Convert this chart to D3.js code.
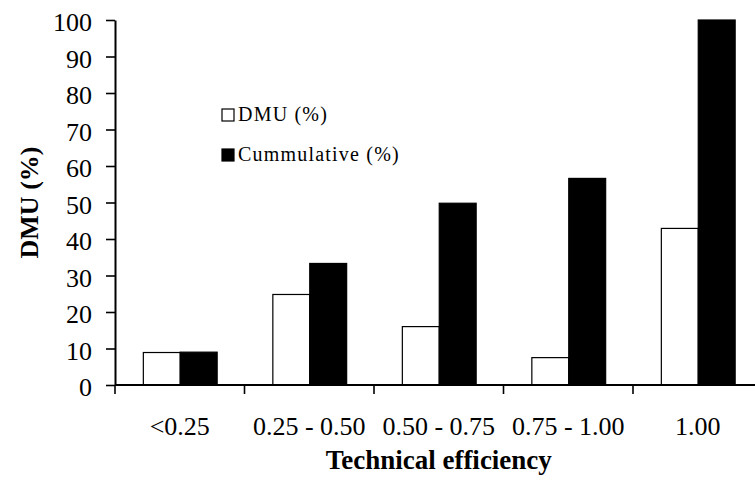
<!DOCTYPE html>
<html>
<head>
<meta charset="utf-8">
<script src="https://cdn.jsdelivr.net/npm/d3@7"></script>
<style>
  body { margin: 0; background: #fff; }
  svg { display: block; overflow: hidden; }
  text { font-family: "Liberation Serif", "Times New Roman", serif; fill: #000; }
</style>
</head>
<body>
<svg width="755" height="483"></svg>
<script>
// values
var categories = ["<0.25", "0.25 - 0.50", "0.50 - 0.75", "0.75 - 1.00", "1.00"];
var dmu = [8.9, 24.8, 16.0, 7.5, 42.9];
var cumulative = [9.0, 33.3, 49.8, 56.6, 100];
var seriesNames = ["DMU (%)", "Cummulative (%)"];
var seriesFill = ["#fff", "#000"];
var yTicks = [0, 10, 20, 30, 40, 50, 60, 70, 80, 90, 100];

var svg = d3.select("svg");
var plotLeft = 115, plotTop = 20, plotBottom = 385, plotRight = 762.5;

var x = d3.scaleBand()
  .domain(categories)
  .range([plotLeft, plotRight])
  .paddingInner(0.43)
  .paddingOuter(0.215);

var xSeries = d3.scaleBand()
  .domain([0, 1])
  .range([0, x.bandwidth()]);

var y = d3.scaleLinear()
  .domain([0, 100])
  .range([plotBottom, plotTop]);

var rows = categories.map(function(c, i) {
  return { cat: c, values: [dmu[i], cumulative[i]] };
});

// bars
var group = svg.append("g")
  .selectAll("g")
  .data(rows)
  .enter().append("g")
  .attr("transform", function(d) { return "translate(" + x(d.cat) + ",0)"; });

group.selectAll("rect")
  .data(function(d) { return d.values; })
  .enter().append("rect")
  .attr("x", function(d, i) { return xSeries(i) + 0.5; })
  .attr("y", function(d) { return y(d); })
  .attr("width", xSeries.bandwidth())
  .attr("height", function(d) { return plotBottom - y(d); })
  .attr("fill", function(d, i) { return seriesFill[i]; })
  .attr("stroke", "#000")
  .attr("stroke-width", 1.2);

// y axis
var yAxis = svg.append("g")
  .attr("transform", "translate(" + plotLeft + ",0)")
  .call(d3.axisLeft(y).tickValues(yTicks).tickSize(9).tickPadding(14).tickSizeOuter(0));
yAxis.select(".domain").attr("stroke-width", 2);
yAxis.selectAll(".tick line").attr("stroke-width", 1.6);
yAxis.selectAll("text")
  .attr("font-size", 26)
  .attr("font-family", "Liberation Serif")
  .attr("dy", "0.42em");

// x axis: labels at band centres, ticks at band boundaries
var xAxis = svg.append("g")
  .attr("transform", "translate(0," + plotBottom + ")")
  .call(d3.axisBottom(x).tickSize(0).tickSizeOuter(0));
xAxis.select(".domain").attr("stroke-width", 2).attr("d", "M" + plotLeft + ",0H" + plotRight);
xAxis.selectAll("text")
  .attr("font-size", 26)
  .attr("font-family", "Liberation Serif")
  .attr("y", 50)
  .attr("dy", 0);

var half = x.step() * x.paddingInner() / 2;
var boundaries = categories.map(function(c) { return x(c) - half; });
xAxis.selectAll(".bound")
  .data(boundaries)
  .enter().append("line")
  .attr("class", "bound")
  .attr("x1", function(d) { return d; })
  .attr("x2", function(d) { return d; })
  .attr("y1", 0)
  .attr("y2", 9)
  .attr("stroke", "#000")
  .attr("stroke-width", 1.6);

// axis titles
svg.append("text")
  .attr("x", (plotLeft + plotRight) / 2)
  .attr("y", 469)
  .attr("text-anchor", "middle")
  .attr("font-size", 27)
  .attr("font-weight", "bold")
  .text("Technical efficiency");

svg.append("text")
  .attr("transform", "translate(38," + (plotTop + plotBottom) / 2 + ") rotate(-90)")
  .attr("text-anchor", "middle")
  .attr("font-size", 26)
  .attr("font-weight", "bold")
  .text("DMU (%)");

// legend
var legend = svg.append("g")
  .selectAll("g")
  .data(seriesNames)
  .enter().append("g")
  .attr("transform", function(d, i) { return "translate(222," + (109 + i * 40) + ")"; });

legend.append("rect")
  .attr("width", 12)
  .attr("height", 12)
  .attr("fill", function(d, i) { return seriesFill[i]; })
  .attr("stroke", "#000")
  .attr("stroke-width", 1.2);

legend.append("text")
  .attr("x", 16)
  .attr("y", 12)
  .attr("font-size", 20)
  .attr("letter-spacing", 1.2)
  .text(function(d) { return d; });
</script>
</body>
</html>
